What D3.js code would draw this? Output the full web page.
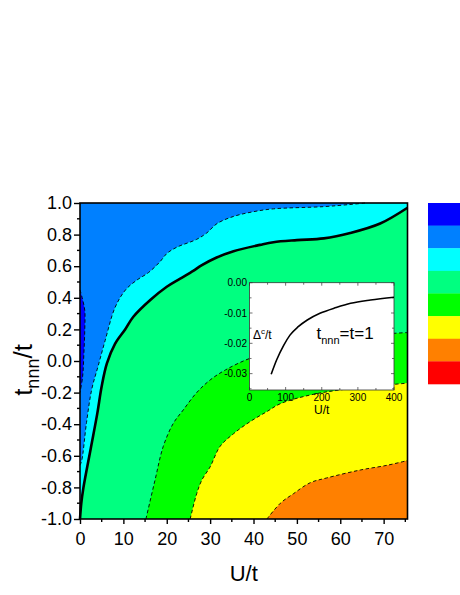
<!DOCTYPE html>
<html><head><meta charset="utf-8">
<script src="https://cdn.jsdelivr.net/npm/d3@7"></script>
<style>body{margin:0;background:#fff}svg{display:block}text{font-family:"Liberation Sans",Arial,sans-serif}</style>
</head><body><svg id="c" width="460" height="595"></svg>
<script>
// ---- data ----
const xTicks = [0,10,20,30,40,50,60,70];
const xTickLabels = ["0","10","20","30","40","50","60","70"];
const yTicks = [-1,-0.8,-0.6,-0.4,-0.2,0,0.2,0.4,0.6,0.8,1.0];
const yTickLabels = ["-1.0","-0.8","-0.6","-0.4","-0.2","0.0","0.2","0.4","0.6","0.8","1.0"];
const legendColors = ["#0000FF","#0080FF","#00FFFF","#00FF80","#00FF00","#FFFF00","#FF8000","#FF0000"];
// boundaries [U/t, tnnn/t]
const darkBlueEdge = [[0,0.45],[0.5,0.40],[1.1,0.32],[1.1,0.2],[0.9,0.05],[0.6,-0.1],[0,-0.2]];
const blueCyanEdge = [[0,-0.66],[0.4,-0.63],[1.5,-0.39],[2.7,-0.18],[4.2,-0.03],[5.8,0.13],[8.1,0.34],[10.5,0.45],[13,0.51],[15.8,0.56],[18.5,0.63],[20,0.68],[22.3,0.72],[26.9,0.77],[29.2,0.81],[31.6,0.87],[35.4,0.915],[40,0.945],[44.6,0.963],[56.2,0.977],[62,0.99],[65.8,1.0]];
const transitionLine = [[0,-1],[0.3,-0.9],[0.8,-0.8],[2.5,-0.55],[4,-0.33],[5,-0.16],[6.2,-0.015],[8.1,0.11],[10.4,0.2],[12.3,0.28],[16.2,0.386],[20,0.47],[23,0.52],[26.1,0.57],[28,0.605],[31.5,0.655],[35.4,0.695],[41.5,0.735],[44.6,0.752],[50,0.765],[56.2,0.776],[62.3,0.81],[69.2,0.87],[75.5,0.97]];
const greenEdge = [[15.2,-1],[17.3,-0.753],[19.2,-0.54],[21.5,-0.395],[23.8,-0.31],[26.9,-0.2],[30,-0.12],[33.5,-0.057],[39.2,0.017],[45,0.06],[55,0.12],[65,0.16],[72.3,0.175],[75.5,0.18]];
const yellowEdge = [[25.4,-1],[26.9,-0.84],[28.1,-0.753],[30,-0.67],[32.3,-0.54],[35.4,-0.46],[39.2,-0.384],[43.1,-0.32],[46.2,-0.27],[53.1,-0.215],[60.8,-0.18],[73.1,-0.146],[75.5,-0.14]];
const orangeEdge = [[43.1,-1],[46.2,-0.9],[49.2,-0.84],[53.1,-0.77],[56.9,-0.74],[64.6,-0.69],[70.8,-0.66],[75.5,-0.63]];
// inset
const insetU = [60,75,95,112,135,160,195,240,280,335,400];
const insetGap = [-0.0302,-0.0255,-0.0206,-0.0173,-0.0145,-0.0123,-0.0101,-0.0082,-0.0068,-0.0057,-0.0048];
const insetXTicks = [0,100,200,300,400];
const insetYTicks = [0,-0.01,-0.02,-0.03];
const insetYTickLabels = ["0.00","-0.01","-0.02","-0.03"];

// ---- drawing ----
const svg = d3.select("#c");
const x = d3.scaleLinear([0,75.5],[80,407.5]);
const y = d3.scaleLinear([-1,1],[519,203]);
const line = d3.line().x(d=>x(d[0])).y(d=>y(d[1])).curve(d3.curveCatmullRom.alpha(0.5));
const corner = (u,t)=>`L${x(u)},${y(t)}`;

const g = svg.append("g");
g.append("rect").attr("x",x(0)).attr("y",y(1)).attr("width",x(75.5)-x(0)).attr("height",y(-1)-y(1)).attr("fill","#0080FF");
g.append("path").attr("d",line(darkBlueEdge)+"Z").attr("fill","#0000FF");
g.append("path").attr("d",line(blueCyanEdge)+corner(75.5,1)+corner(75.5,-1)+corner(0,-1)+"Z").attr("fill","#00FFFF");
g.append("path").attr("d",line(transitionLine)+corner(75.5,-1)+"Z").attr("fill","#00FF80");
g.append("path").attr("d",line(greenEdge)+corner(75.5,-1)+"Z").attr("fill","#00FF00");
g.append("path").attr("d",line(yellowEdge)+corner(75.5,-1)+"Z").attr("fill","#FFFF00");
g.append("path").attr("d",line(orangeEdge)+corner(75.5,-1)+"Z").attr("fill","#FF8000");

[darkBlueEdge,blueCyanEdge,greenEdge,yellowEdge,orangeEdge].forEach(b=>{
  g.append("path").attr("d",line(b)).attr("fill","none").attr("stroke","#000").attr("stroke-width",0.9).attr("stroke-dasharray","3.5,2.5");
});
g.append("path").attr("d",line(transitionLine)).attr("fill","none").attr("stroke","#000").attr("stroke-width",2.6);

// frame
svg.append("rect").attr("x",x(0)).attr("y",y(1)).attr("width",x(75.5)-x(0)).attr("height",y(-1)-y(1)).attr("fill","none").attr("stroke","#000").attr("stroke-width",1.6);

// axes
const xAx = d3.axisBottom(x).tickValues(xTicks).tickFormat((d,i)=>xTickLabels[i]).tickSize(5).tickPadding(8);
const gx = svg.append("g").attr("transform",`translate(0,${y(-1)})`).call(xAx);
const yAx = d3.axisLeft(y).tickValues(yTicks).tickFormat((d,i)=>yTickLabels[i]).tickSize(6).tickPadding(2);
const gy = svg.append("g").attr("transform",`translate(${x(0)},0)`).call(yAx);
[gx,gy].forEach(a=>{a.select(".domain").remove();a.selectAll("line").attr("stroke","#000").attr("stroke-width",1.4);a.selectAll("text").attr("font-size",18).attr("fill","#000").attr("font-family",'"Liberation Sans",Arial,sans-serif');});
// minor ticks
const xMinor = d3.range(5,76,10);
svg.append("g").selectAll("line").data(xMinor).join("line").attr("x1",d=>x(d)).attr("x2",d=>x(d)).attr("y1",y(-1)).attr("y2",y(-1)+3).attr("stroke","#000").attr("stroke-width",1.4);
const yMinor = d3.range(-0.9,1,0.2);
svg.append("g").selectAll("line").data(yMinor).join("line").attr("x1",x(0)-3).attr("x2",x(0)).attr("y1",d=>y(d)).attr("y2",d=>y(d)).attr("stroke","#000").attr("stroke-width",1.4);

svg.append("text").attr("x",(x(0)+x(75.5))/2).attr("y",581).attr("text-anchor","middle").attr("font-size",22).text("U/t");
const yt = svg.append("text").attr("transform",`translate(32,${(y(1)+y(-1))/2+9}) rotate(-90)`).attr("text-anchor","middle").attr("font-size",26);
yt.append("tspan").text("t");
yt.append("tspan").attr("font-size",18).attr("dy",7).text("nnn");
yt.append("tspan").attr("dy",-7).text("/t");

// legend
const ly = d3.scaleBand().domain(d3.range(legendColors.length)).range([203,384]);
svg.append("g").selectAll("rect").data(legendColors).join("rect").attr("x",428).attr("y",(d,i)=>ly(i)).attr("width",34).attr("height",ly.bandwidth()+0.3).attr("fill",d=>d);

// inset
const ix = d3.scaleLinear([0,400],[249.5,394]);
const iy = d3.scaleLinear([-0.0354,0],[390,282.7]);
const ig = svg.append("g");
ig.append("rect").attr("x",ix(0)).attr("y",iy(0)).attr("width",ix(400)-ix(0)).attr("height",iy(-0.0354)-iy(0)).attr("fill","#fff").attr("stroke","#333").attr("stroke-width",0.8);
const ixMajor = insetXTicks, ixMinor = d3.range(50,400,100);
const iyMinor = [-0.005,-0.015,-0.025,-0.035];
const tk = (sel,data,len,f)=>sel.append("g").selectAll("line").data(data).join("line").each(function(d){const c=f(d,len);d3.select(this).attr("x1",c[0]).attr("y1",c[1]).attr("x2",c[2]).attr("y2",c[3]);}).attr("stroke","#333").attr("stroke-width",0.7);
tk(ig,ixMajor,3,(d,l)=>[ix(d),iy(-0.0354),ix(d),iy(-0.0354)-l]);
tk(ig,ixMinor,2,(d,l)=>[ix(d),iy(-0.0354),ix(d),iy(-0.0354)-l]);
tk(ig,ixMajor,3,(d,l)=>[ix(d),iy(0),ix(d),iy(0)+l]);
tk(ig,ixMinor,2,(d,l)=>[ix(d),iy(0),ix(d),iy(0)+l]);
tk(ig,insetYTicks,3,(d,l)=>[ix(0),iy(d),ix(0)+l,iy(d)]);
tk(ig,iyMinor,2,(d,l)=>[ix(0),iy(d),ix(0)+l,iy(d)]);
tk(ig,insetYTicks,3,(d,l)=>[ix(400),iy(d),ix(400)-l,iy(d)]);
tk(ig,iyMinor,2,(d,l)=>[ix(400),iy(d),ix(400)-l,iy(d)]);
ig.append("g").selectAll("text").data(insetXTicks).join("text").attr("x",d=>ix(d)).attr("y",400.5).attr("text-anchor","middle").attr("font-size",10).text(d=>d);
ig.append("g").selectAll("text").data(insetYTicks).join("text").attr("x",ix(0)-2.5).attr("y",d=>iy(d)+3.5).attr("text-anchor","end").attr("font-size",10).text((d,i)=>insetYTickLabels[i]);
ig.append("text").attr("x",(ix(0)+ix(400))/2).attr("y",414).attr("text-anchor","middle").attr("font-size",12).text("U/t");
const il = d3.line().x((d,i)=>ix(insetU[i])).y(d=>iy(d)).curve(d3.curveMonotoneX);
ig.append("path").attr("d",il(insetGap)).attr("fill","none").attr("stroke","#000").attr("stroke-width",1.6);
const dl = ig.append("text").attr("x",253).attr("y",338.5).attr("font-size",12);
dl.append("tspan").text("Δ");
dl.append("tspan").attr("font-size",8).attr("dy",-5).text("c");
dl.append("tspan").attr("dy",5).text("/t");
const tl = ig.append("text").attr("x",316.5).attr("y",338.5).attr("font-size",17);
tl.append("tspan").text("t");
tl.append("tspan").attr("font-size",11).attr("dy",5).text("nnn");
tl.append("tspan").attr("dy",-5).text("=t=1");
</script></body></html>
